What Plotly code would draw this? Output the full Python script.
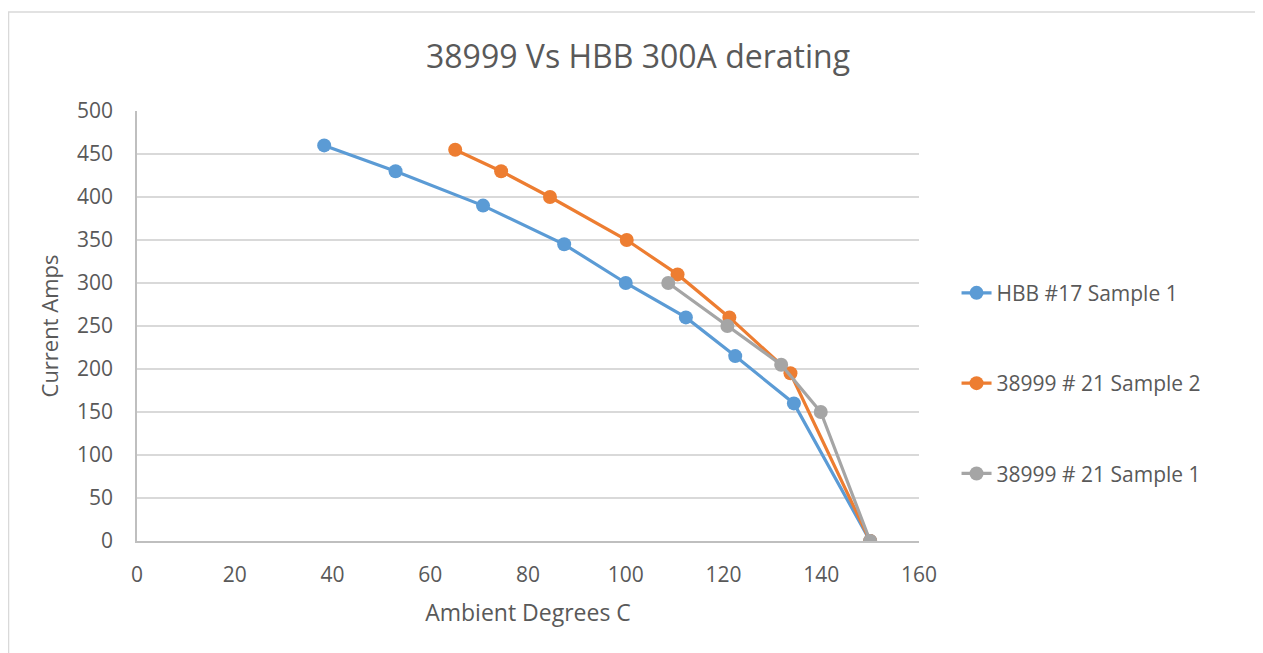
import plotly.graph_objects as go

title = "38999 Vs HBB 300A derating"
x_title = "Ambient Degrees C"
y_title = "Current Amps"

hbb17_s1_x = [38.3, 52.9, 70.8, 87.4, 100.0, 112.3, 122.4, 134.4, 150.0]
hbb17_s1_y = [460, 430, 390, 345, 300, 260, 215, 160, 0]

c38999_21_s2_x = [65.1, 74.5, 84.5, 100.2, 110.6, 121.2, 133.7, 150.0]
c38999_21_s2_y = [455, 430, 400, 350, 310, 260, 195, 0]

c38999_21_s1_x = [108.7, 120.8, 131.8, 139.9, 150.0]
c38999_21_s1_y = [300, 250, 205, 150, 0]

series_names = ["HBB #17 Sample 1", "38999 # 21 Sample 2", "38999 # 21 Sample 1"]
colors = ["#5B9BD5", "#ED7D31", "#A5A5A5"]

FONT = "Open Sans"
TXT = "#595959"

fig = go.Figure()
for name, xs, ys, col in zip(series_names,
                             [hbb17_s1_x, c38999_21_s2_x, c38999_21_s1_x],
                             [hbb17_s1_y, c38999_21_s2_y, c38999_21_s1_y],
                             colors):
    fig.add_trace(go.Scatter(x=xs, y=ys, name=name, mode="lines+markers",
                             legendgroup=name,
                             line=dict(color=col, width=3.2),
                             marker=dict(color=col, size=14)))

fig.update_layout(
    width=1255, height=645,
    margin=dict(l=129, r=344, t=103, b=112),
    paper_bgcolor="white", plot_bgcolor="white",
    font=dict(family=FONT, color=TXT, size=21),
    title=dict(text=title, x=0.502, xanchor="center", y=0.924, yanchor="middle",
               font=dict(family=FONT, size=32, color=TXT)),
    xaxis=dict(range=[0, 160], dtick=20, tick0=0, showgrid=False,
               showline=True, linecolor="#BFBFBF", linewidth=1.5,
               zeroline=False, ticks="", ticklabelstandoff=14,
               tickfont=dict(size=21, color=TXT),
               title=dict(text=x_title, font=dict(size=23, color=TXT), standoff=18)),
    yaxis=dict(range=[0, 500], dtick=50, tick0=0, showgrid=True,
               gridcolor="#D9D9D9", gridwidth=1.5,
               showline=True, linecolor="#BFBFBF", linewidth=1.5,
               zeroline=False, ticks="", ticklabelstandoff=18,
               tickfont=dict(size=21, color=TXT),
               title=dict(text=y_title, font=dict(size=22, color=TXT), standoff=12)),
    legend=dict(x=1.048, xanchor="left", y=0.367, yanchor="middle",
                tracegroupgap=60, font=dict(size=21, color=TXT),
                bgcolor="rgba(0,0,0,0)"),
    shapes=[dict(type="rect", xref="paper", yref="paper",
                 x0=-0.1643, x1=1.6, y0=-0.4, y1=1.2302,
                 line=dict(color="#D9D9D9", width=1.5), layer="below")],
)

fig.write_html("out.html")
